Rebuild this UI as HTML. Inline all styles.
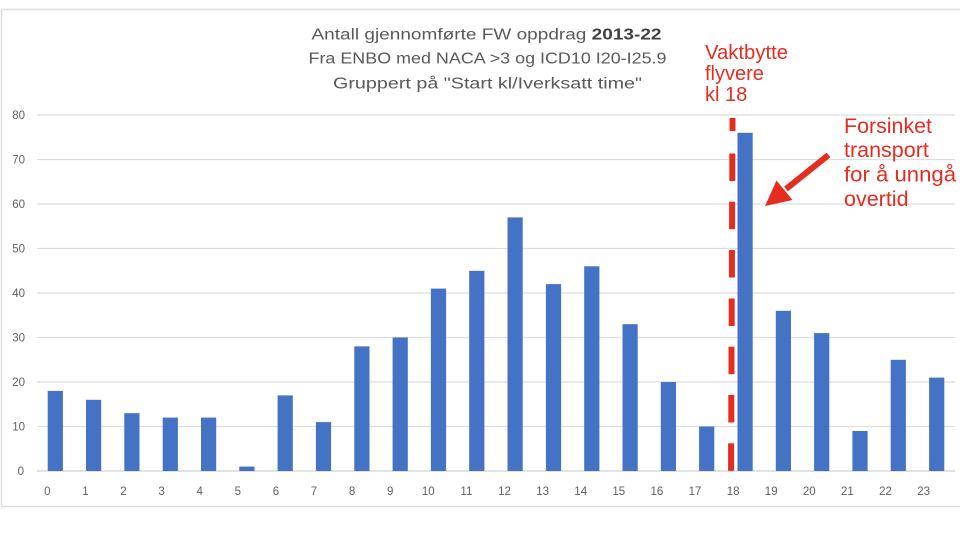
<!DOCTYPE html>
<html><head><meta charset="utf-8"><style>
html,body{margin:0;padding:0;background:#fff;}
svg{display:block;}
</style></head><body>
<svg width="960" height="548" viewBox="0 0 960 548" xmlns="http://www.w3.org/2000/svg">
<rect x="0" y="0" width="960" height="548" fill="#fff"/>
<!-- frame -->
<path d="M1.5 506.5 V9.5 H960" fill="none" stroke="#dcdcdc" stroke-width="1.5"/>
<line x1="1.5" y1="506.5" x2="960" y2="506.5" stroke="#dcdcdc" stroke-width="1.5"/>
<!-- title -->
<g font-family="Liberation Sans, sans-serif" fill="#595959" font-size="15.5" text-anchor="start">
<text x="311.5" y="39.5" textLength="350" lengthAdjust="spacingAndGlyphs">Antall gjennomførte FW oppdrag <tspan font-weight="bold" fill="#404040">2013-22</tspan></text>
<text x="308.5" y="63.5" textLength="358" lengthAdjust="spacingAndGlyphs">Fra ENBO med NACA &gt;3 og ICD10 I20-I25.9</text>
<text x="333" y="88.5" textLength="309" lengthAdjust="spacingAndGlyphs">Gruppert på "Start kl/Iverksatt time"</text>
</g>
<!-- gridlines -->
<g stroke="#dedede" stroke-width="1.2">
<line x1="37" y1="115" x2="955" y2="115"/>
<line x1="37" y1="159.5" x2="955" y2="159.5"/>
<line x1="37" y1="204" x2="955" y2="204"/>
<line x1="37" y1="248.5" x2="955" y2="248.5"/>
<line x1="37" y1="293" x2="955" y2="293"/>
<line x1="37" y1="337.5" x2="955" y2="337.5"/>
<line x1="37" y1="382" x2="955" y2="382"/>
<line x1="37" y1="426.5" x2="955" y2="426.5"/>
<line x1="37" y1="471" x2="955" y2="471" stroke="#d0d0d0"/>
</g>
<!-- y labels -->
<g font-family="Liberation Sans, sans-serif" fill="#606060" font-size="11.5" text-anchor="end">
<text x="25" y="119">80</text>
<text x="25" y="163.5">70</text>
<text x="25" y="208">60</text>
<text x="25" y="252.5">50</text>
<text x="25" y="297">40</text>
<text x="25" y="341.5">30</text>
<text x="25" y="386">20</text>
<text x="25" y="430.5">10</text>
<text x="24" y="475">0</text>
</g>
<!-- bars -->
<g fill="#4472c4">
<rect x="47.7" y="390.9" width="15.2" height="80.1"/>
<rect x="86.0" y="399.8" width="15.2" height="71.2"/>
<rect x="124.3" y="413.2" width="15.2" height="57.8"/>
<rect x="162.7" y="417.6" width="15.2" height="53.4"/>
<rect x="201.0" y="417.6" width="15.2" height="53.4"/>
<rect x="239.3" y="466.6" width="15.2" height="4.4"/>
<rect x="277.6" y="395.4" width="15.2" height="75.6"/>
<rect x="315.9" y="422.1" width="15.2" height="48.9"/>
<rect x="354.3" y="346.4" width="15.2" height="124.6"/>
<rect x="392.6" y="337.5" width="15.2" height="133.5"/>
<rect x="430.9" y="288.6" width="15.2" height="182.4"/>
<rect x="469.2" y="270.8" width="15.2" height="200.2"/>
<rect x="507.5" y="217.4" width="15.2" height="253.6"/>
<rect x="545.9" y="284.1" width="15.2" height="186.9"/>
<rect x="584.2" y="266.3" width="15.2" height="204.7"/>
<rect x="622.5" y="324.2" width="15.2" height="146.8"/>
<rect x="660.8" y="382.0" width="15.2" height="89.0"/>
<rect x="699.1" y="426.5" width="15.2" height="44.5"/>
<rect x="737.5" y="132.8" width="15.2" height="338.2"/>
<rect x="775.8" y="310.8" width="15.2" height="160.2"/>
<rect x="814.1" y="333.1" width="15.2" height="137.9"/>
<rect x="852.4" y="431.0" width="15.2" height="40.0"/>
<rect x="890.7" y="359.8" width="15.2" height="111.2"/>
<rect x="929.1" y="377.6" width="15.2" height="93.4"/>
</g>
<!-- x labels -->
<g font-family="Liberation Sans, sans-serif" fill="#606060" font-size="11.5" text-anchor="middle">
<text x="47.3" y="495">0</text>
<text x="85.4" y="495">1</text>
<text x="123.5" y="495">2</text>
<text x="161.6" y="495">3</text>
<text x="199.7" y="495">4</text>
<text x="237.8" y="495">5</text>
<text x="275.9" y="495">6</text>
<text x="314.0" y="495">7</text>
<text x="352.1" y="495">8</text>
<text x="390.2" y="495">9</text>
<text x="428.3" y="495">10</text>
<text x="466.4" y="495">11</text>
<text x="504.5" y="495">12</text>
<text x="542.6" y="495">13</text>
<text x="580.7" y="495">14</text>
<text x="618.8" y="495">15</text>
<text x="656.9" y="495">16</text>
<text x="695.0" y="495">17</text>
<text x="733.1" y="495">18</text>
<text x="771.2" y="495">19</text>
<text x="809.3" y="495">20</text>
<text x="847.4" y="495">21</text>
<text x="885.5" y="495">22</text>
<text x="923.6" y="495">23</text>
</g>
<!-- dashed red line -->
<g fill="#e42d1f">
<rect x="729.5" y="118" width="6" height="13"/>
<rect x="729.3" y="153.5" width="6" height="27.5"/>
<rect x="729.1" y="201.7" width="6" height="27.5"/>
<rect x="728.9" y="250" width="6" height="27.5"/>
<rect x="728.7" y="298.5" width="6" height="27.5"/>
<rect x="728.5" y="346.7" width="6" height="27.5"/>
<rect x="728.3" y="395" width="6" height="27.5"/>
<rect x="728.1" y="443.3" width="6" height="27.5"/>
</g>
<!-- arrow -->
<line x1="828.5" y1="155" x2="786" y2="189" stroke="#e42d1f" stroke-width="6"/>
<polygon points="765,206 792.5,200 776.5,180.5" fill="#e42d1f"/>
<!-- annotations -->
<g font-family="Liberation Sans, sans-serif" fill="#e42d1f">
<text x="705" y="59" font-size="20" textLength="83" lengthAdjust="spacingAndGlyphs">Vaktbytte</text>
<text x="705" y="80" font-size="20">flyvere</text>
<text x="705" y="101" font-size="20">kl 18</text>
<text x="844" y="133" font-size="21.5" textLength="88" lengthAdjust="spacingAndGlyphs">Forsinket</text>
<text x="844" y="157" font-size="21.5">transport</text>
<text x="844" y="181.5" font-size="21.5" textLength="112" lengthAdjust="spacingAndGlyphs">for å unngå</text>
<text x="844" y="206" font-size="21.5">overtid</text>
</g>
</svg>
</body></html>
